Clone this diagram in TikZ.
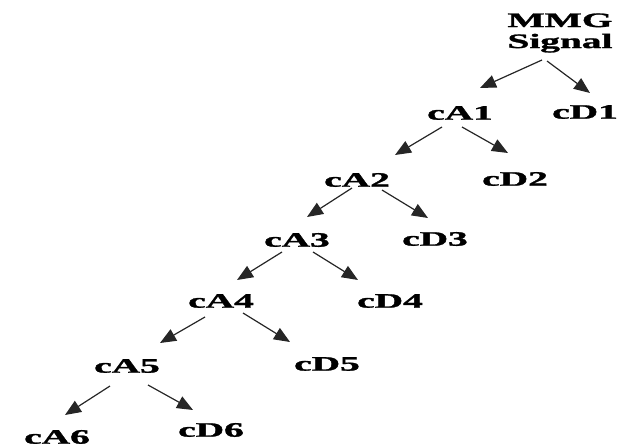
\documentclass[tikz,border=0pt]{standalone}
\usepackage{fontspec}
\usepackage{graphicx}
\setmainfont{Liberation Serif}[BoldFeatures={FakeBold=1.2}]
\usetikzlibrary{arrows.meta,calc}
\newcommand{\wide}[1]{\scalebox{1.92}[1]{#1}}
\tikzset{
  lab/.style={inner sep=0pt, font=\fontsize{20.5}{21}\selectfont\bfseries, text=black},
  arr/.style={line width=1.2pt, draw=black!85, -{Triangle[length=16pt,width=13pt]}}
}
\begin{document}
\begin{tikzpicture}[x=1pt,y=-1pt]
\useasboundingbox (0,0) rectangle (629,444);
\node[lab, align=center] (sig) at (560,33) {\wide{MMG}\\\wide{Signal}};
\node[lab] (cA1) at (460,113) {\wide{cA1}};
\node[lab] (cD1) at (585,112) {\wide{cD1}};
\node[lab] (cA2) at (357,180) {\wide{cA2}};
\node[lab] (cD2) at (515,179) {\wide{cD2}};
\node[lab] (cA3) at (297,240) {\wide{cA3}};
\node[lab] (cD3) at (435,239) {\wide{cD3}};
\node[lab] (cA4) at (221,301) {\wide{cA4}};
\node[lab] (cD4) at (390,301) {\wide{cD4}};
\node[lab] (cA5) at (127,366) {\wide{cA5}};
\node[lab] (cD5) at (327,364) {\wide{cD5}};
\node[lab] (cA6) at (57,437) {\wide{cA6}};
\node[lab] (cD6) at (211,430) {\wide{cD6}};
% arrows
\draw[arr] ($(sig)+(-18,27)$) -- ($(cA1)+(20,-25)$);
\draw[arr] ($(sig)+(-13,28)$) -- ($(cD1)+(5,-19)$);
\draw[arr] ($(cA1)+(-18,14)$) -- ($(cA2)+(38,-25)$);
\draw[arr] ($(cA1)+(2,14)$) -- ($(cD2)+(-7,-26)$);
\draw[arr] ($(cA2)+(-5,8)$) -- ($(cA3)+(10,-23)$);
\draw[arr] ($(cA2)+(25,10)$) -- ($(cD3)+(-7,-21)$);
\draw[arr] ($(cA3)+(-15,12)$) -- ($(cA4)+(16,-21)$);
\draw[arr] ($(cA3)+(16,12)$) -- ($(cD4)+(-32,-21)$);
\draw[arr] ($(cA4)+(-16,16)$) -- ($(cA5)+(33,-23)$);
\draw[arr] ($(cA4)+(22,12)$) -- ($(cD5)+(-37,-22)$);
\draw[arr] ($(cA5)+(-17,20)$) -- ($(cA6)+(8,-22)$);
\draw[arr] ($(cA5)+(21,19)$) -- ($(cD6)+(-18,-20)$);
\end{tikzpicture}
\end{document}
